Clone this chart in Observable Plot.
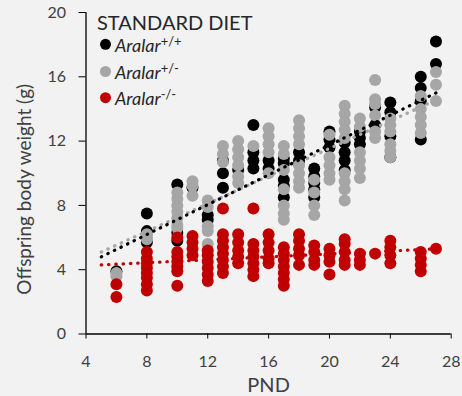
<!DOCTYPE html>
<html><head><meta charset="utf-8">
<script src="https://cdn.jsdelivr.net/npm/d3@7"></script>
<script src="https://cdn.jsdelivr.net/npm/@observablehq/plot@0.6"></script>
<style>
html,body{margin:0;padding:0;background:#f2f2f2;}
#chart{width:462px;height:396px;}
svg{display:block;}
</style></head><body><div id="chart"></div>
<script>
// Postnatal day (PND) of each measurement column
const days = [6, 8, 10, 11, 12, 13, 14, 15, 16, 17, 18, 19, 20, 21, 22, 23, 24, 26, 27];
// Offspring body weight (g) per day, one list per genotype
const wildType = [
  [3.9], [7.5, 6.4, 5.7], [9.3, 6.3, 5.8], [9.1], [7.4, 7.1], [10.8, 10.0, 9.1], [10.2],
  [13.0, 11.3, 10.8, 10.3], [10.8, 10.3], [10.9, 10.6, 9.6, 9.2, 8.5], [11.3, 10.8],
  [10.3, 9.8, 9.4, 9.0, 8.5], [12.6, 12.1, 11.6], [11.9, 11.3, 10.8, 10.2], [12.6, 12.2, 11.8],
  [14.1, 13.0], [14.4, 13.8, 12.3, 11.0], [16.0, 15.3, 14.5, 12.1], [18.2, 16.8]
];
const heterozygous = [
  [3.8, 3.6], [6.2, 6.0, 5.9], [8.8, 8.4, 8.0, 7.6, 7.2, 6.8, 6.6], [9.5, 9.2, 8.6],
  [8.3, 7.9, 6.7, 6.4, 5.6], [11.7, 11.2, 10.7], [12.0, 11.5, 11.0, 10.5, 9.8, 9.4], [11.7],
  [12.8, 12.3, 11.8, 11.3, 10.0], [11.7, 11.2, 10.2, 9.0, 8.0, 7.5, 7.1],
  [13.3, 12.8, 12.3, 11.8, 10.5, 10.0, 9.5, 9.1], [9.6, 8.8, 8.0, 7.4], [12.4, 11.0, 10.5, 10.0, 9.6],
  [14.2, 13.7, 13.2, 12.7, 12.2, 10.0, 9.5, 9.0, 8.3], [13.4, 12.9, 11.3, 10.8, 10.3, 9.7],
  [15.8, 14.6, 14.3, 13.6, 12.6, 12.2], [13.4, 13.0, 12.6, 11.8, 11.4, 11.0],
  [14.8, 14.0, 13.5, 13.0, 12.5], [16.3, 15.5, 14.5]
];
const knockout = [
  [3.1, 2.3], [5.1, 4.7, 4.4, 4.1, 3.8, 3.5, 3.1, 2.7], [6.0, 5.1, 4.8, 4.5, 4.2, 3.9, 3.0],
  [6.1, 5.7, 5.3, 4.9], [5.2, 4.9, 4.5, 4.1, 3.7, 3.3], [7.8, 6.2, 5.8, 5.4, 5.0, 4.6, 4.2, 3.8],
  [6.2, 5.7, 5.2, 4.8, 4.4], [7.8, 5.6, 5.2, 4.8, 4.4, 4.0, 3.6], [6.2, 5.7, 5.2, 4.7, 4.4],
  [5.4, 5.0, 4.6, 4.2, 3.8, 3.4, 3.0], [6.2, 5.8, 5.3, 4.9, 4.3], [5.5, 5.1, 4.6, 4.3],
  [5.3, 4.9, 4.5, 3.7], [5.9, 5.6, 5.1, 4.6, 4.3], [5.0, 4.6, 4.3], [5.0],
  [5.8, 5.4, 4.9, 4.4], [5.1, 4.7, 4.3, 3.9], [5.3]
];
// Linear trendlines (start/end day and fitted weight)
const trendDays = [5, 27];
const trendWildType = [4.8, 15.0];
const trendHeterozygous = [5.1, 14.55];
const trendKnockout = [4.3, 5.3];

const genotypes = ["+/+", "+/-", "-/-"];
const colors = ["#000000", "#a6a6a6", "#c00000"];
const xTicks = [4, 8, 12, 16, 20, 24, 28];
const yTicks = [0, 4, 8, 12, 16, 20];
const title = "STANDARD DIET";
const geneName = "Aralar";
const xLabel = "PND";
const yLabel = "Offspring body weight (g)";

const series = [wildType, heterozygous, knockout];
const trends = [trendWildType, trendHeterozygous, trendKnockout];
const points = [];
series.forEach((s, g) => s.forEach((vals, i) => vals.forEach(v => points.push({day: days[i], weight: v, genotype: genotypes[g]}))));
const trendRows = [];
[1, 2, 0].forEach(g => trends[g].forEach((v, i) => trendRows.push({day: trendDays[i], weight: v, genotype: genotypes[g]})));

const font = "Lato, 'Open Sans', sans-serif";
const chart = Plot.plot({
  width: 462, height: 396,
  marginLeft: 85.5, marginRight: 11.3, marginTop: 12, marginBottom: 62.5,
  style: {background: "#f2f2f2", fontFamily: font, fontSize: "16px", color: "#404040"},
  x: {domain: [4, 28]},
  y: {domain: [0, 20]},
  color: {domain: genotypes, range: colors},
  marks: [
    Plot.dot(points, {x: "day", y: "weight", r: 6, fill: "genotype", stroke: "none"}),
    Plot.line(trendRows, {x: "day", y: "weight", z: "genotype", stroke: "genotype", strokeWidth: 3.2, strokeLinecap: "round", strokeDasharray: "0.5,6.8"}),
    Plot.ruleX([4], {y1: 0, y2: 20, stroke: "#000", strokeWidth: 1.3}),
    Plot.ruleY([0], {x1: 4, x2: 28, stroke: "#000", strokeWidth: 1.3}),
    Plot.axisX({ticks: xTicks, tickSize: 5, tickPadding: 17, label: null, stroke: "#000", fill: "#404040"}),
    Plot.axisY({ticks: yTicks, tickSize: 7, tickPadding: 13, label: null, stroke: "#000", fill: "#404040"}),
    Plot.text([xLabel], {frameAnchor: "bottom", dy: 52, lineAnchor: "middle", textAnchor: "middle", fontSize: 20, fill: "#404040"}),
    Plot.text([yLabel], {frameAnchor: "left", dx: -61, dy: 16, rotate: -90, textAnchor: "middle", lineAnchor: "middle", fontSize: 19, fill: "#404040"})
  ]
});
document.getElementById("chart").append(chart);

// Legend inside the plot area
const svg = d3.select(chart);
const lg = svg.append("g").attr("font-family", font).attr("text-anchor", "start");
lg.append("text").attr("x", 97).attr("y", 29.5).attr("font-size", 20).attr("fill", "#262626").text(title);
const rowY = [44.3, 71.5, 97.7];
genotypes.forEach((g, i) => {
  lg.append("circle").attr("cx", 105.5).attr("cy", rowY[i]).attr("r", 5.5).attr("fill", colors[i]);
  const t = lg.append("text").attr("x", 115).attr("y", rowY[i] + 7.5).attr("font-size", 18).attr("font-style", "italic").attr("fill", "#262626");
  t.append("tspan").text(geneName);
  t.append("tspan").attr("dy", -6).attr("font-size", 13).attr("font-style", "normal").text(g);
});
</script></body></html>
